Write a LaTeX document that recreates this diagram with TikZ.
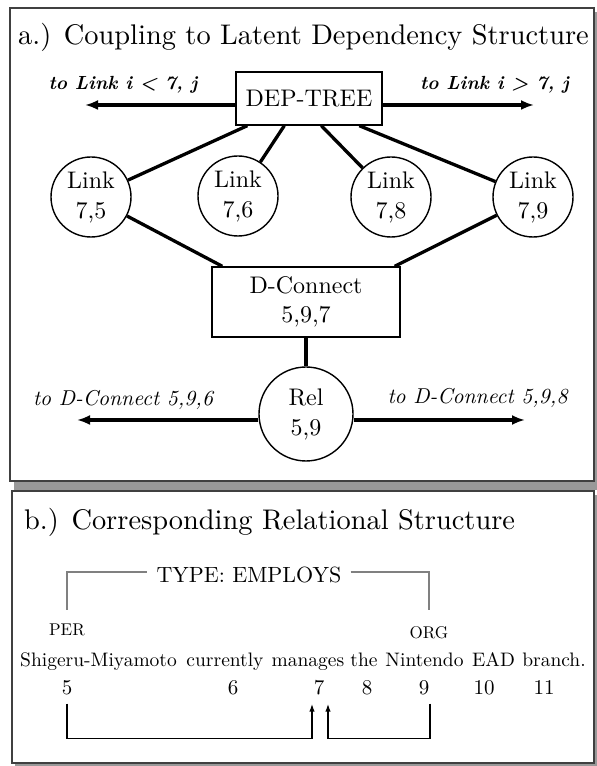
\documentclass[tikz,border=0pt]{standalone}
\usepackage{fontspec}
\setmainfont{lmroman10-regular.otf}[BoldFont=lmroman10-bold.otf,ItalicFont=lmroman10-italic.otf,BoldItalicFont=lmroman10-bolditalic.otf]
\usetikzlibrary{arrows.meta}
\begin{document}
\begin{tikzpicture}[x=1pt,y=1pt,
        panel/.style={draw=black!75,line width=2pt,fill=white},
        shadowbox/.style={fill=black!40},
        head/.style={anchor=base west,inner sep=0pt,font=\fontsize{28.4}{34}\selectfont},
        linknode/.style={circle,draw,line width=1.4pt,minimum size=80pt,inner sep=0pt,align=center,font=\fontsize{24}{30}\selectfont},
        factor/.style={rectangle,draw,line width=1.4pt,inner sep=0pt,align=center,font=\fontsize{24}{29}\selectfont},
        tie/.style={line width=3.3pt},
        away/.style={line width=3.3pt,-{Latex[length=13pt,width=10pt]}},
        farlink/.style={inner sep=0pt,font=\fontsize{19}{23}\selectfont\bfseries\itshape},
        farcon/.style={inner sep=0pt,font=\fontsize{21.5}{26}\selectfont\itshape},
        tag/.style={inner sep=0pt,font=\fontsize{17}{20}\selectfont},
        word/.style={anchor=base,inner sep=0pt,font=\fontsize{19.5}{23}\selectfont},
        num/.style={anchor=base,inner sep=0pt,font=\fontsize{21}{25}\selectfont},
        bracket/.style={draw=black!50,line width=1.8pt},
        hook/.style={line width=1.5pt,-{Latex[length=8pt,width=5.5pt]}}]
        \fill[white] (0,0) rectangle (597,766);
        \fill[shadowbox] (14,276) rectangle (597,754);
        \draw[panel] (10,285) rectangle (594,758);
        \fill[shadowbox] (15,0) rectangle (597,271);
        \draw[panel] (12,3) rectangle (594,275);
        \node[head] (ta) at (18,721) {a.) Coupling to Latent Dependency Structure};
        \node[factor,minimum width=146pt,minimum height=53pt] (dep) at (309,667.5) {DEP-TREE};
        \node[linknode] (l75) at (91,569) {Link\\7,5};
        \node[linknode] (l76) at (238,570) {Link\\7,6};
        \node[linknode] (l78) at (391,569) {Link\\7,8};
        \node[linknode] (l79) at (533,569) {Link\\7,9};
        \node[factor,minimum width=188pt,minimum height=70pt] (dcon) at (306,464) {D-Connect\\5,9,7};
        \node[linknode,minimum size=94pt] (rel) at (306,352) {Rel\\5,9};
        \coordinate (lt) at (85,661);
        \coordinate (rt) at (534,661);
        \coordinate (ld) at (77,346);
        \coordinate (rd) at (525,346);
        \draw[away] (dep.west |- lt) -- (lt);
        \draw[away] (dep.east |- rt) -- (rt);
        \draw[away] (rel.west |- ld) -- (ld);
        \draw[away] (rel.east |- rd) -- (rd);
        \node[farlink] (tol) at (123,681) {to Link i < 7, j};
        \node[farlink] (tor) at (494.5,681) {to Link i > 7, j};
        \node[farcon] (todl) at (123,366) {to D-Connect 5,9,6};
        \node[farcon] (todr) at (477.5,368) {to D-Connect 5,9,8};
        \draw[tie] ([xshift=12pt]dep.south west) -- (l75);
        \draw[tie] ([xshift=49pt]dep.south west) -- (l76);
        \draw[tie] ([xshift=86pt]dep.south west) -- (l78);
        \draw[tie] ([xshift=124pt]dep.south west) -- (l79);
        \draw[tie] (l75) -- ([xshift=11pt]dcon.north west);
        \draw[tie] (l79) -- ([xshift=-6pt]dcon.north east);
        \draw[tie] (dcon) -- (rel);
        \node[head] (tb) at (24,236) {b.) Corresponding Relational Structure};
        \node[inner xsep=9pt,inner ysep=0pt,font=\fontsize{22}{26}\selectfont] (type) at (249,191) {TYPE: EMPLOYS};
        \node[tag] (per) at (67,136) {PER};
        \node[tag] (org) at (429,133) {ORG};
        \draw[bracket] ([yshift=14pt]per.north) |- ([yshift=3pt]type.west);
        \draw[bracket] ([yshift=3pt]type.east) -| ([yshift=17pt]org.north);
        \node[word] (w5) at (98.5,99) {Shigeru-Miyamoto};
        \node[word] (w6) at (225,99) {currently};
        \node[word] (w7) at (308,99) {manages};
        \node[word] (w8) at (364,99) {the};
        \node[word] (w9) at (424.5,99) {Nintendo};
        \node[word] (w10) at (493.5,99) {EAD};
        \node[word] (w11) at (554,99) {branch.};
        \foreach \i/\x in {5/67,6/233,7/319,8/367,9/424,10/484,11/544}
                \node[num] (n\i) at (\x,71) {\i};
        \draw[hook] ([yshift=-8pt]n5.south) -- ++(0,-35) -| ([xshift=-7pt,yshift=-8pt]n7.south);
        \draw[hook] ([xshift=6pt,yshift=-8pt]n9.south) -- ++(0,-35) -| ([xshift=9pt,yshift=-8pt]n7.south);
\end{tikzpicture}
\end{document}
